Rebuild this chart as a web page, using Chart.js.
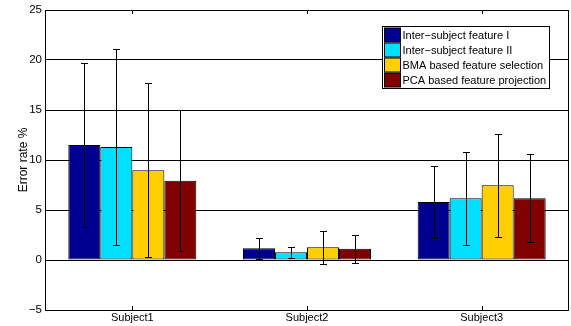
<!DOCTYPE html>
<html>
<head>
<meta charset="utf-8">
<script src="https://cdn.jsdelivr.net/npm/chart.js@4/dist/chart.umd.min.js"></script>
<style>
  html, body { margin: 0; padding: 0; background: #fff; }
  #wrap { width: 571px; height: 326px; position: relative; }
</style>
</head>
<body>
<div id="wrap"><canvas id="c" width="571" height="326"></canvas></div>
<script>
// Error rates (%) per subject, with standard deviations
const categories = ['Subject1', 'Subject2', 'Subject3'];
const yTicks = [-5, 0, 5, 10, 15, 20, 25];

const interSubjectI   = [11.5, 1.17, 5.8];
const interSubjectII  = [11.3, 0.77, 6.17];
const bmaSelection    = [8.97, 1.27, 7.47];
const pcaProjection   = [7.93, 1.13, 6.17];

const errInterSubjectI  = [8.17, 1.05, 3.6];
const errInterSubjectII = [9.8, 0.58, 4.65];
const errBmaSelection   = [8.7, 1.65, 5.15];
const errPcaProjection  = [7.07, 1.4, 4.4];

const seriesNames = [
  'Inter\u2212subject feature I',
  'Inter\u2212subject feature II',
  'BMA based feature selection',
  'PCA based feature projection'
];
const seriesColors = ['#00008F', '#00DFFF', '#FFCF00', '#800000'];

const FONT = "'Liberation Sans', Arial, Helvetica, sans-serif";

// whiskers drawn on top of each bar
const errorBars = {
  id: 'errorBars',
  afterDatasetsDraw(chart) {
    const ctx = chart.ctx;
    const yScale = chart.scales.y;
    ctx.save();
    ctx.strokeStyle = '#000';
    ctx.lineWidth = 1;
    chart.data.datasets.forEach((ds, i) => {
      const meta = chart.getDatasetMeta(i);
      meta.data.forEach((bar, j) => {
        const v = ds.data[j];
        const e = ds.errors[j];
        const x = Math.round(bar.x) + 0.5;
        const yt = Math.round(yScale.getPixelForValue(v + e)) + 0.5;
        const yb = Math.round(yScale.getPixelForValue(v - e)) + 0.5;
        ctx.beginPath();
        ctx.moveTo(x, yt); ctx.lineTo(x, yb);
        ctx.moveTo(x - 3.5, yt); ctx.lineTo(x + 3.5, yt);
        ctx.moveTo(x - 3.5, yb); ctx.lineTo(x + 3.5, yb);
        ctx.stroke();
      });
    });
    ctx.restore();
  }
};

// axes box, category tick marks and the boxed legend
const frameAndLegend = {
  id: 'frameAndLegend',
  afterDraw(chart) {
    const ctx = chart.ctx;
    const a = chart.chartArea;
    const xScale = chart.scales.x;
    ctx.save();
    ctx.strokeStyle = '#000';
    ctx.lineWidth = 1;
    ctx.strokeRect(Math.round(a.left) + 0.5, Math.round(a.top) + 0.5,
                   Math.round(a.right - a.left) - 1, Math.round(a.bottom - a.top));
    categories.forEach((c, i) => {
      const x = Math.round(xScale.getPixelForValue(i)) + 0.5;
      ctx.beginPath();
      ctx.moveTo(x, a.bottom); ctx.lineTo(x, a.bottom - 4);
      ctx.moveTo(x, a.top); ctx.lineTo(x, a.top + 4);
      ctx.stroke();
    });

    // legend
    const bx = Math.round(a.right) - 186.5;
    const by = Math.round(a.top) + 16.5;
    const bw = 167, rowH = 15, bh = rowH * 4 + 2;
    ctx.fillStyle = '#fff';
    ctx.fillRect(bx, by, bw, bh);
    ctx.strokeRect(bx, by, bw, bh);
    ctx.font = '11px ' + FONT;
    ctx.textBaseline = 'middle';
    ctx.textAlign = 'left';
    chart.data.datasets.forEach((ds, i) => {
      const cy = by + 1 + rowH * i + rowH / 2;
      ctx.fillStyle = ds.backgroundColor;
      ctx.fillRect(bx + 2, cy - 7, 16, 14);
      ctx.strokeRect(bx + 2, cy - 7, 16, 14);
      ctx.fillStyle = '#000';
      ctx.fillText(ds.label, bx + 20, cy + 0.5);
    });
    ctx.restore();
  }
};

const values = [interSubjectI, interSubjectII, bmaSelection, pcaProjection];
const errors = [errInterSubjectI, errInterSubjectII, errBmaSelection, errPcaProjection];

new Chart(document.getElementById('c'), {
  type: 'bar',
  data: {
    labels: categories,
    datasets: values.map((v, i) => ({
      label: seriesNames[i],
      data: v,
      errors: errors[i],
      backgroundColor: seriesColors[i],
      borderColor: '#000',
      borderWidth: 1,
      borderSkipped: false,
      categoryPercentage: 0.733,
      barPercentage: 1.0
    }))
  },
  options: {
    responsive: false,
    animation: false,
    devicePixelRatio: 1,
    layout: { padding: { top: 10, right: 2, left: 0, bottom: 0 } },
    plugins: { legend: { display: false }, tooltip: { enabled: false } },
    scales: {
      x: {
        grid: { display: false, drawTicks: false },
        border: { display: false },
        ticks: { color: '#000', font: { family: FONT, size: 11 }, padding: 1, maxRotation: 0 },
        afterFit(s) { s.height = 16; }
      },
      y: {
        min: -5, max: 25,
        afterBuildTicks(s) { s.ticks = yTicks.map(v => ({ value: v })); },
        grid: { color: '#000', lineWidth: 1, drawTicks: false },
        border: { display: false },
        ticks: {
          color: '#000', font: { family: FONT, size: 11.5 }, padding: 3,
          callback: v => String(v).replace('-', '\u2212')
        },
        title: {
          display: true, text: 'Error rate %', color: '#000',
          font: { family: FONT, size: 12 }, padding: { top: 16, bottom: 0 }
        },
        afterFit(s) { s.width = 45; }
      }
    }
  },
  plugins: [errorBars, frameAndLegend]
});
</script>
</body>
</html>
